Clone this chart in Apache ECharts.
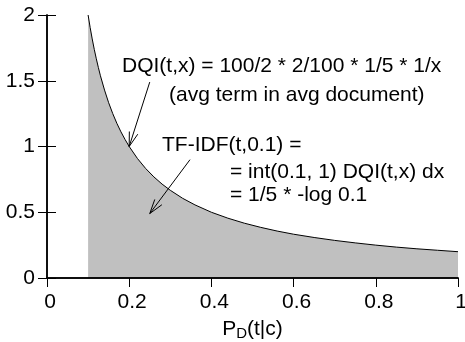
<!doctype html>
<html>
<head>
    <meta charset="utf-8">
    <title>DQI</title>
    <script src="https://cdn.jsdelivr.net/npm/echarts@6/dist/echarts.min.js"></script>
</head>
<body style="margin:0;padding:0">
    <div id="tb" style="width:465px;height:342px"></div>
    <script>
        // 读图得到的曲线点 (x, DQI)
        var xs = [0.100, 0.105, 0.110, 0.115, 0.120, 0.125, 0.130, 0.140, 0.150, 0.160, 0.170, 0.180,
            0.190, 0.200, 0.220, 0.240, 0.260, 0.280, 0.300, 0.330, 0.360, 0.400, 0.440, 0.480,
            0.520, 0.560, 0.600, 0.650, 0.700, 0.750, 0.800, 0.850, 0.900, 0.950, 1.000];
        var ys = [2.000, 1.905, 1.818, 1.739, 1.667, 1.600, 1.538, 1.429, 1.333, 1.250, 1.176, 1.111,
            1.053, 1.000, 0.909, 0.833, 0.769, 0.714, 0.667, 0.606, 0.556, 0.500, 0.455, 0.417,
            0.385, 0.357, 0.333, 0.308, 0.286, 0.267, 0.250, 0.235, 0.222, 0.211, 0.200];
        // 箭头: 起点x, 起点y, 终点x, 终点y
        var arrows = [[0.25, 1.49, 0.20, 1.00], [0.348, 0.90, 0.25, 0.49]];
        var labels = [
            'DQI(t,x) = 100/2 * 2/100 * 1/5 * 1/x',
            '(avg term in avg document)',
            'TF-IDF(t,0.1) =',
            '= int(0.1, 1) DQI(t,x) dx',
            '= 1/5 * -log 0.1'
        ];

        var font = 'Liberation Sans, Arial, sans-serif';
        var fs = 21;
        var chart = echarts.init(document.getElementById('tb'));

        var axisLine = { lineStyle: { color: '#000', width: 1.5 } };
        var tick = { inside: true, length: 9, lineStyle: { color: '#000', width: 1 } };

        function txt(s, x, y) {
            return {
                type: 'text', left: x, top: y, z: 10,
                style: { text: s, font: fs + 'px ' + font, fill: '#000' }
            };
        }

        chart.setOption({
            animation: false,
            grid: { left: 47, right: 7, top: 15, bottom: 64, outerBoundsMode: 'none', containLabel: false },
            xAxis: [{
                type: 'value', min: 0, max: 1, interval: 0.2, z: 5,
                axisLine: axisLine,
                axisTick: { show: false },
                splitLine: { show: false },
                axisLabel: { color: '#000', fontSize: fs, fontFamily: font, margin: 14, padding: [0, 0, 0, 6] },
                name: '{a|P}{b|D}{a|(t|c)}',
                nameLocation: 'middle',
                nameGap: 39,
                nameTextStyle: {
                    rich: {
                        a: { fontSize: fs, fontFamily: font, color: '#000' },
                        b: { fontSize: 15, fontFamily: font, color: '#000', padding: [9, 0, 0, 0] }
                    }
                }
            }, {
                type: 'value', min: 0, max: 1, interval: 0.2, position: 'top', z: 5,
                axisLine: axisLine, axisTick: tick,
                axisLabel: { show: false }, splitLine: { show: false }
            }],
            yAxis: [{
                type: 'value', min: 0, max: 2, interval: 0.5, z: 5,
                axisLine: axisLine, axisTick: tick,
                splitLine: { show: false },
                axisLabel: { color: '#000', fontSize: fs, fontFamily: font, margin: 12 }
            }, {
                type: 'value', min: 0, max: 2, interval: 0.5, position: 'right', z: 5,
                axisLine: axisLine, axisTick: tick,
                axisLabel: { show: false }, splitLine: { show: false }
            }],
            series: [{
                type: 'line',
                data: xs.map(function (x, i) { return [x, ys[i]]; }),
                showSymbol: false,
                lineStyle: { color: '#000', width: 1 },
                areaStyle: { color: '#c0c0c0', opacity: 1 }
            }, {
                type: 'custom',
                data: arrows,
                z: 6,
                renderItem: function (params, api) {
                    var p0 = api.coord([api.value(0), api.value(1)]);
                    var p1 = api.coord([api.value(2), api.value(3)]);
                    var ang = Math.atan2(p1[1] - p0[1], p1[0] - p0[0]);
                    var len = 15, sp = 0.3;
                    var w1 = [p1[0] - len * Math.cos(ang - sp), p1[1] - len * Math.sin(ang - sp)];
                    var w2 = [p1[0] - len * Math.cos(ang + sp), p1[1] - len * Math.sin(ang + sp)];
                    return {
                        type: 'group', children: [
                            { type: 'line', shape: { x1: p0[0], y1: p0[1], x2: p1[0], y2: p1[1] }, style: { stroke: '#000', lineWidth: 1 } },
                            { type: 'polyline', shape: { points: [w1, p1, w2] }, style: { stroke: '#000', fill: null, lineWidth: 1 } }
                        ]
                    };
                }
            }],
            graphic: [
                txt(labels[0], 122, 56),
                txt(labels[1], 169, 85),
                txt(labels[2], 162, 135),
                txt(labels[3], 230, 162),
                txt(labels[4], 230, 185)
            ]
        });
    </script>
</body>
</html>
